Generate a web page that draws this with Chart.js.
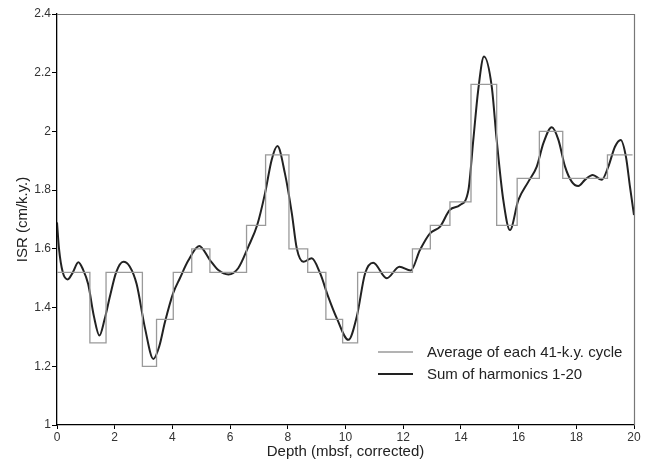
<!DOCTYPE html>
<html>
<head>
<meta charset="utf-8">
<script src="https://cdn.jsdelivr.net/npm/chart.js@4/dist/chart.umd.min.js"></script>
<style>
html,body{margin:0;padding:0;background:#fff;}
#wrap{width:647px;height:469px;}
</style>
</head>
<body>
<div id="wrap"><canvas id="c" width="647" height="469"></canvas></div>
<script>
// Average of each 41-k.y. cycle (step starts and values)
const stepDepth = [0, 1.14, 1.70, 2.96, 3.45, 4.03, 4.67, 5.30, 6.57, 7.23, 8.04, 8.69, 9.32, 9.90, 10.42, 12.32, 12.94, 13.62, 14.35, 15.24, 15.95, 16.72, 17.53, 19.08, 19.95];
const stepValue = [1.52, 1.28, 1.52, 1.20, 1.36, 1.52, 1.60, 1.52, 1.68, 1.92, 1.60, 1.52, 1.36, 1.28, 1.52, 1.60, 1.68, 1.76, 2.16, 1.68, 1.84, 2.00, 1.84, 1.92, 1.92];

// Sum of harmonics 1-20
const harmDepth = [0, 0.07, 0.2, 0.37, 0.55, 0.74, 0.9, 1.08, 1.28, 1.47, 1.65, 1.84, 2.05, 2.30, 2.52, 2.76, 3.05, 3.34, 3.55, 3.74, 4.03, 4.26, 4.55, 4.93, 5.30, 5.59, 5.94, 6.28, 6.63, 6.94, 7.21, 7.44, 7.64, 7.90, 8.14, 8.31, 8.54, 8.83, 9.12, 9.40, 9.70, 10.10, 10.39, 10.68, 10.96, 11.43, 11.87, 12.26, 12.58, 12.93, 13.28, 13.62, 13.97, 14.26, 14.43, 14.60, 14.80, 15.07, 15.24, 15.47, 15.70, 15.99, 16.34, 16.63, 16.86, 17.15, 17.38, 17.61, 17.84, 18.07, 18.30, 18.57, 18.88, 19.11, 19.34, 19.54, 19.72, 19.86, 20.0];
const harmValue = [1.69, 1.60, 1.52, 1.496, 1.52, 1.554, 1.53, 1.48, 1.37, 1.305, 1.36, 1.44, 1.52, 1.556, 1.54, 1.48, 1.33, 1.225, 1.27, 1.35, 1.45, 1.50, 1.56, 1.61, 1.562, 1.528, 1.513, 1.534, 1.607, 1.681, 1.789, 1.903, 1.95, 1.857, 1.721, 1.602, 1.556, 1.568, 1.517, 1.437, 1.363, 1.29, 1.369, 1.517, 1.553, 1.50, 1.539, 1.526, 1.596, 1.653, 1.676, 1.733, 1.749, 1.80, 1.971, 2.141, 2.255, 2.152, 1.971, 1.766, 1.664, 1.766, 1.829, 1.88, 1.96, 2.014, 1.971, 1.88, 1.829, 1.814, 1.835, 1.852, 1.835, 1.88, 1.948, 1.971, 1.914, 1.812, 1.715];

const xTicks = [0, 2, 4, 6, 8, 10, 12, 14, 16, 18, 20];
const yTicks = [1, 1.2, 1.4, 1.6, 1.8, 2, 2.2, 2.4];
const legendLabels = ['Average of each 41-k.y. cycle', 'Sum of harmonics 1-20'];

const FONT = "'Liberation Sans', Arial, Helvetica, sans-serif";

const frame = {
  id: 'frame',
  afterDatasetsDraw(chart) {
    const {ctx, chartArea: a} = chart;
    ctx.save();
    ctx.strokeStyle = '#777';
    ctx.lineWidth = 1.2;
    ctx.beginPath();
    ctx.moveTo(a.left, a.top + 0.5);
    ctx.lineTo(a.right + 0.5, a.top + 0.5);
    ctx.lineTo(a.right + 0.5, a.bottom);
    ctx.stroke();
    // legend
    const items = [
      {label: legendLabels[0], color: '#9a9a9a', w: 1.3},
      {label: legendLabels[1], color: '#222', w: 2}
    ];
    ctx.font = '15px ' + FONT;
    ctx.textBaseline = 'middle';
    items.forEach((it, i) => {
      const y = a.top + 338 + i * 22;
      ctx.strokeStyle = it.color;
      ctx.lineWidth = it.w;
      ctx.beginPath();
      ctx.moveTo(a.left + 321, y);
      ctx.lineTo(a.left + 356, y);
      ctx.stroke();
      ctx.fillStyle = '#222';
      ctx.fillText(it.label, a.left + 370, y + 1);
    });
    ctx.restore();
  }
};

new Chart(document.getElementById('c'), {
  type: 'line',
  data: {
    datasets: [
      {
        label: legendLabels[0],
        data: stepDepth.map((x, i) => ({x, y: stepValue[i]})),
        stepped: 'before',
        borderColor: '#9a9a9a',
        borderWidth: 1.3,
        pointRadius: 0,
        fill: false
      },
      {
        label: legendLabels[1],
        data: harmDepth.map((x, i) => ({x, y: harmValue[i]})),
        cubicInterpolationMode: 'monotone',
        borderColor: '#222',
        borderWidth: 2,
        pointRadius: 0,
        fill: false
      }
    ]
  },
  options: {
    responsive: false,
    animation: false,
    layout: {padding: {left: 0, right: 13, top: 14, bottom: 0}},
    plugins: {legend: {display: false}, tooltip: {enabled: false}},
    scales: {
      x: {
        type: 'linear',
        min: 0, max: 20,
        afterBuildTicks(s) { s.ticks = xTicks.map(v => ({value: v})); },
        afterFit(s) { s.height = 44; },
        grid: {display: true, drawOnChartArea: false, drawTicks: true, tickLength: 4, color: '#000'},
        border: {display: true, color: '#000', width: 1.3},
        ticks: {font: {family: FONT, size: 12}, color: '#333', padding: 1, maxRotation: 0},
        title: {display: true, text: 'Depth (mbsf, corrected)', font: {family: FONT, size: 15}, color: '#222', padding: {top: 8, bottom: 8}}
      },
      y: {
        type: 'linear',
        min: 1, max: 2.4,
        afterBuildTicks(s) { s.ticks = yTicks.map(v => ({value: v})); },
        afterFit(s) { s.width = 57; },
        grid: {display: true, drawOnChartArea: false, drawTicks: true, tickLength: 5, color: '#000'},
        border: {display: true, color: '#000', width: 1.3},
        ticks: {font: {family: FONT, size: 12}, color: '#333', padding: 1, callback: v => String(Number(v.toFixed(1)))},
        title: {display: true, text: 'ISR (cm/k.y.)', font: {family: FONT, size: 15}, color: '#222', padding: {top: 14, bottom: 14}}
      }
    }
  },
  plugins: [frame]
});
</script>
</body>
</html>
